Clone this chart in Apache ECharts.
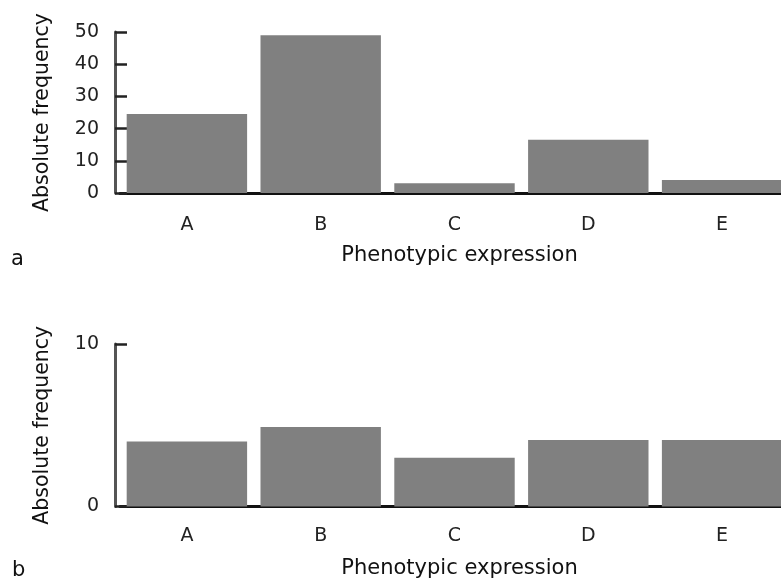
<!DOCTYPE html>
<html>
<head>
<meta charset="utf-8">
<script src="https://cdn.jsdelivr.net/npm/echarts@6/dist/echarts.min.js"></script>
<style>
html,body{margin:0;padding:0;background:#fff;}
#chart{width:781px;height:584px;}
</style>
</head>
<body>
<div id="chart"></div>
<script>
var categories = ['A', 'B', 'C', 'D', 'E'];
var valuesA = [24.5, 49, 3, 16.5, 4];
var valuesB = [4, 4.9, 3, 4.1, 4.1];
var yTicksA = { min: 0, max: 50, interval: 10 };
var yTicksB = { min: 0, max: 10, interval: 10 };
var panelLabels = ['a', 'b'];
var xName = 'Phenotypic expression';
var yName = 'Absolute frequency';

var FONT = 'DejaVu Sans';
var chart = echarts.init(document.getElementById('chart'), null, { renderer: 'canvas' });

function xAxisCfg(gridIndex, offset, nameGap) {
  return {
    type: 'category',
    gridIndex: gridIndex,
    data: categories,
    offset: offset,
    axisLine: { show: true, lineStyle: { color: '#111', width: 3 } },
    axisTick: { show: false },
    axisLabel: { color: '#222', fontSize: 19, fontFamily: FONT, margin: 20 },
    name: xName,
    nameLocation: 'middle',
    nameGap: nameGap,
    nameTextStyle: { color: '#111', fontSize: 21, fontFamily: FONT, padding: [0, 0, 0, 10] },
    splitLine: { show: false }
  };
}
function yAxisCfg(gridIndex, t) {
  return {
    type: 'value',
    gridIndex: gridIndex,
    min: t.min, max: t.max, interval: t.interval,
    offset: 5,
    axisLine: { show: true, lineStyle: { color: '#555', width: 3 } },
    axisTick: { show: true, inside: true, length: 12, lineStyle: { color: '#222', width: 2.5 } },
    axisLabel: { color: '#222', fontSize: 19, fontFamily: FONT, margin: 16 },
    splitLine: { show: false },
    name: yName,
    nameLocation: 'middle',
    nameGap: 62,
    nameTextStyle: { color: '#111', fontSize: 20.5, fontFamily: FONT }
  };
}

chart.setOption({
  backgroundColor: '#fff',
  animation: false,
  grid: [
    { left: 120, width: 669, top: 32, height: 161, containLabel: false, outerBoundsMode: 'none' },
    { left: 120, width: 669, top: 344, height: 162.5, containLabel: false, outerBoundsMode: 'none' }
  ],
  xAxis: [xAxisCfg(0, 3, 49), xAxisCfg(1, 0, 52)],
  yAxis: [yAxisCfg(0, yTicksA), yAxisCfg(1, yTicksB)],
  series: [
    { type: 'bar', xAxisIndex: 0, yAxisIndex: 0, data: valuesA, barCategoryGap: '10%', itemStyle: { color: '#808080' } },
    { type: 'bar', xAxisIndex: 1, yAxisIndex: 1, data: valuesB, barCategoryGap: '10%', itemStyle: { color: '#808080' } }
  ],
  graphic: [
    { type: 'text', left: 11, top: 249, style: { text: panelLabels[0], font: '21px "DejaVu Sans"', fill: '#111' } },
    { type: 'text', left: 12, top: 560, style: { text: panelLabels[1], font: '21px "DejaVu Sans"', fill: '#111' } }
  ]
});
</script>
</body>
</html>
